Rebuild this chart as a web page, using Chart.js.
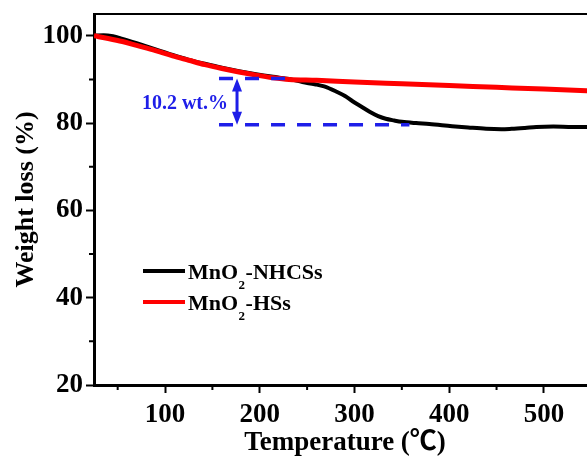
<!DOCTYPE html>
<html>
<head>
<meta charset="utf-8">
<script src="https://cdn.jsdelivr.net/npm/chart.js@4/dist/chart.umd.min.js"></script>
<style>
  html, body { margin: 0; padding: 0; background: #fff; overflow: hidden; }
  #wrap { width: 587px; height: 469px; overflow: hidden; position: relative; }
  canvas { display: block; }
</style>
</head>
<body>
<div id="wrap"><canvas id="c" width="600" height="469"></canvas></div>
<script>
// ---- data ----
const seriesNames = ['MnO\u2082-NHCSs', 'MnO\u2082-HSs'];
const tempNHCSs = [25, 35, 45, 55, 70, 90, 108, 125, 142, 160, 178, 196, 214, 231, 245, 258, 268, 281, 290, 298, 307, 316, 325, 333, 342, 350, 365, 379, 403, 420, 439, 455, 466, 480, 492, 510, 530, 545, 555];
const weightNHCSs = [100.0, 100.15, 99.9, 99.3, 98.3, 96.9, 95.6, 94.5, 93.6, 92.7, 91.9, 91.2, 90.6, 90.1, 89.4, 88.9, 88.4, 87.2, 86.2, 85.0, 83.8, 82.6, 81.6, 81.0, 80.6, 80.3, 80.0, 79.8, 79.3, 79.0, 78.7, 78.6, 78.7, 78.9, 79.1, 79.2, 79.1, 79.1, 79.1];
const tempHSs = [25, 40, 55, 70, 90, 108, 125, 142, 160, 178, 196, 214, 231, 260, 300, 350, 400, 450, 500, 545, 555];
const weightHSs = [100.0, 99.4, 98.7, 97.8, 96.6, 95.4, 94.4, 93.4, 92.5, 91.7, 91.0, 90.4, 90.0, 89.8, 89.4, 89.0, 88.6, 88.2, 87.8, 87.4, 87.3];
const xTicks = [100, 200, 300, 400, 500];
const xMinorTicks = [50, 150, 250, 350, 450, 550];
const yTicks = [20, 40, 60, 80, 100];
const yMinorTicks = [30, 50, 70, 90];
// annotation: mass loss step
const lossLabel = '10.2 wt.%';
const lossUpper = 90.2;
const lossLower = 79.6;
const lossArrowT = 176;
const upperDashT = [157, 231];
const lowerDashT = [157, 358];

const FONT = '"Liberation Serif", "Times New Roman", serif';
const BLUE = '#1e1ee8';

function toPts(xs, ys) { return xs.map((x, i) => ({x: x, y: ys[i]})); }

const decorPlugin = {
  id: 'decor',
  afterDatasetsDraw(chart) {
    const ctx = chart.ctx;
    const xs = chart.scales.x, ys = chart.scales.y;
    const a = chart.chartArea;
    ctx.save();
    // top border
    ctx.strokeStyle = '#000';
    ctx.lineWidth = 2;
    ctx.beginPath();
    ctx.moveTo(a.left, a.top);
    ctx.lineTo(a.right + 10, a.top);
    ctx.stroke();
    // minor ticks
    ctx.lineWidth = 2;
    ctx.beginPath();
    xMinorTicks.forEach(v => {
      const px = xs.getPixelForValue(v);
      ctx.moveTo(px, a.bottom);
      ctx.lineTo(px, a.bottom + 5);
    });
    yMinorTicks.forEach(v => {
      const py = ys.getPixelForValue(v);
      ctx.moveTo(a.left, py);
      ctx.lineTo(a.left - 5, py);
    });
    ctx.stroke();

    // dashed guide lines
    ctx.strokeStyle = BLUE;
    ctx.lineWidth = 3.5;
    ctx.setLineDash([14, 12]);
    ctx.beginPath();
    let yU = ys.getPixelForValue(lossUpper), yL = ys.getPixelForValue(lossLower);
    ctx.moveTo(xs.getPixelForValue(upperDashT[0]), yU);
    ctx.lineTo(xs.getPixelForValue(upperDashT[1]), yU);
    ctx.moveTo(xs.getPixelForValue(lowerDashT[0]), yL);
    ctx.lineTo(xs.getPixelForValue(lowerDashT[1]), yL);
    ctx.stroke();
    ctx.setLineDash([]);
    // double arrow
    const ax = xs.getPixelForValue(lossArrowT);
    ctx.lineWidth = 3;
    ctx.beginPath();
    ctx.moveTo(ax, yU + 10);
    ctx.lineTo(ax, yL - 10);
    ctx.stroke();
    ctx.fillStyle = BLUE;
    ctx.beginPath();
    ctx.moveTo(ax, yU); ctx.lineTo(ax - 5, yU + 13); ctx.lineTo(ax + 5, yU + 13); ctx.closePath();
    ctx.moveTo(ax, yL); ctx.lineTo(ax - 5, yL - 13); ctx.lineTo(ax + 5, yL - 13); ctx.closePath();
    ctx.fill();
    // label
    ctx.font = 'bold 20px ' + FONT;
    ctx.textAlign = 'right';
    ctx.textBaseline = 'alphabetic';
    ctx.fillText(lossLabel, ax - 9, (yU + yL) / 2 + 7);

    // legend
    const colors = ['#000', '#ff0000'];
    const tails = ['-NHCSs', '-HSs'];
    const lx0 = 143, lx1 = 185;
    const ly = [271, 302];
    for (let i = 0; i < 2; i++) {
      ctx.strokeStyle = colors[i];
      ctx.lineWidth = 4;
      ctx.beginPath();
      ctx.moveTo(lx0, ly[i]);
      ctx.lineTo(lx1, ly[i]);
      ctx.stroke();
      ctx.fillStyle = '#000';
      ctx.textAlign = 'left';
      let tx = 188;
      const base = ly[i] + 7.5;
      ctx.font = 'bold 22px ' + FONT;
      ctx.fillText('MnO', tx, base);
      tx += ctx.measureText('MnO').width + 0.5;
      ctx.font = 'bold 13px ' + FONT;
      ctx.fillText('2', tx, base + 10);
      tx += ctx.measureText('2').width + 0.5;
      ctx.font = 'bold 22px ' + FONT;
      ctx.fillText(tails[i], tx, base);
    }
    ctx.restore();
  }
};

new Chart(document.getElementById('c'), {
  type: 'line',
  data: {
    datasets: [
      {
        label: seriesNames[0],
        data: toPts(tempNHCSs, weightNHCSs),
        borderColor: '#000',
        borderWidth: 4,
        pointRadius: 0,
        cubicInterpolationMode: 'monotone',
        order: 1
      },
      {
        label: seriesNames[1],
        data: toPts(tempHSs, weightHSs),
        borderColor: '#ff0000',
        borderWidth: 5,
        pointRadius: 0,
        cubicInterpolationMode: 'monotone',
        order: 0
      }
    ]
  },
  options: {
    responsive: false,
    animation: false,
    layout: { padding: { top: 14, right: 4, left: 0, bottom: 0 } },
    plugins: { legend: { display: false }, tooltip: { enabled: false } },
    scales: {
      x: {
        type: 'linear',
        min: 25, max: 555,
        afterFit(s) { s.height = 84; s.paddingLeft = 0; s.paddingRight = 0; },
        afterBuildTicks(s) { s.ticks = xTicks.map(v => ({value: v})); },
        ticks: { stepSize: 100, includeBounds: false, color: '#000', padding: 6, maxRotation: 0,
                 font: { family: FONT, size: 27, weight: 'bold' } },
        grid: { drawOnChartArea: false, drawTicks: true, tickLength: 8, tickWidth: 2, tickColor: '#000' },
        border: { display: true, color: '#000', width: 3 },
        title: { display: true, text: 'Temperature (\u2103)', color: '#000', padding: { top: 0, bottom: 10 },
                 font: { family: FONT + ', "Noto Sans CJK SC"', size: 27, weight: 'bold' } }
      },
      y: {
        type: 'linear',
        min: 20, max: 105,
        afterFit(s) { s.width = 94; s.paddingTop = 0; s.paddingBottom = 0; },
        afterBuildTicks(s) { s.ticks = yTicks.map(v => ({value: v})); },
        ticks: { stepSize: 20, includeBounds: false, color: '#000', padding: 3,
                 font: { family: FONT, size: 27, weight: 'bold' } },
        grid: { drawOnChartArea: false, drawTicks: true, tickLength: 8, tickWidth: 2, tickColor: '#000' },
        border: { display: true, color: '#000', width: 3 },
        title: { display: true, text: 'Weight loss (%)', color: '#000', padding: { top: 11, bottom: 0 },
                 font: { family: FONT, size: 26, weight: 'bold' } }
      }
    }
  },
  plugins: [decorPlugin]
});
</script>
</body>
</html>
